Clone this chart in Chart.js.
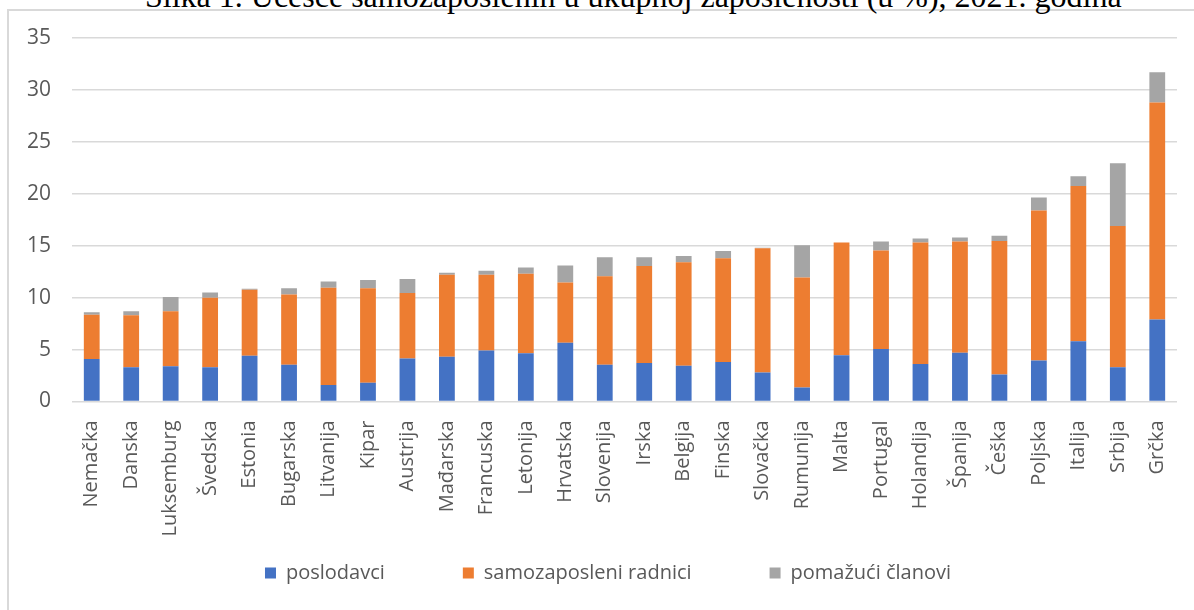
<!DOCTYPE html>
<html>
<head>
<meta charset="utf-8">
<script src="https://cdn.jsdelivr.net/npm/chart.js@4.4.1/dist/chart.umd.min.js"></script>
<style>
  html, body { margin: 0; padding: 0; background: #fff; overflow: hidden; }
  #frame { position: absolute; left: 7px; top: 9px; width: 1400px; height: 800px; border: 2px solid #d9d9d9; }
  #title { position: absolute; left: 145px; top: -20px; font: 32px "Liberation Serif", serif; line-height: 1; white-space: nowrap; color: #000; }
  #wrap { position: absolute; left: 0; top: 0; width: 1194px; height: 650px; }
</style>
</head>
<body>
<div id="frame"></div>
<div id="title">Slika 1. Učešće samozaposlenih u ukupnoj zaposlenosti (u %), 2021. godina</div>
<div id="wrap"><canvas id="chart"></canvas></div>
<script>
var countries = ["Nemačka", "Danska", "Luksemburg", "Švedska", "Estonia", "Bugarska", "Litvanija", "Kipar", "Austrija",
  "Mađarska", "Francuska", "Letonija", "Hrvatska", "Slovenija", "Irska", "Belgija", "Finska", "Slovačka", "Rumunija",
  "Malta", "Portugal", "Holandija", "Španija", "Češka", "Poljska", "Italija", "Srbija", "Grčka"];

// poslodavci
var employers = [4.1, 3.3, 3.4, 3.3, 4.4, 3.55, 1.6, 1.8, 4.15,
  4.3, 4.9, 4.65, 5.65, 3.55, 3.7, 3.45, 3.8, 2.8, 1.35,
  4.45, 5.05, 3.6, 4.7, 2.6, 3.95, 5.8, 3.3, 7.9];
// samozaposleni radnici
var ownAccount = [4.25, 5.0, 5.3, 6.7, 6.35, 6.75, 9.35, 9.1, 6.3,
  7.9, 7.3, 7.65, 5.8, 8.5, 9.35, 9.95, 10.0, 11.95, 10.6,
  10.85, 9.5, 11.7, 10.7, 12.85, 14.45, 14.95, 13.6, 20.9];
// pomažući članovi
var helpers = [0.25, 0.4, 1.35, 0.5, 0.1, 0.6, 0.6, 0.8, 1.35,
  0.2, 0.4, 0.6, 1.65, 1.85, 0.85, 0.6, 0.7, 0.05, 3.1,
  0, 0.85, 0.4, 0.4, 0.5, 1.25, 0.95, 6.05, 2.9];

var seriesNames = ["poslodavci", "samozaposleni radnici", "pomažući članovi"];
var seriesColors = ["#4472C4", "#ED7D31", "#A5A5A5"];
var yTicks = [0, 5, 10, 15, 20, 25, 30, 35];

var textGray = "#595959";
var font = "'Open Sans', sans-serif";

// legend sits under the labels, centred a bit right of the plot
var moveLegend = {
  id: "moveLegend",
  afterLayout: function (chart) {
    var lg = chart.legend;
    var dx = 608 - (lg.left + lg.right) / 2;
    var dy = 573 - (lg.top + 78 + 10);
    lg.left += dx; lg.right += dx;
    lg.top += dy; lg.bottom += dy;
  }
};

new Chart("chart", {
  type: "bar",
  data: {
    labels: countries,
    datasets: [employers, ownAccount, helpers].map(function (vals, i) {
      return {
        label: seriesNames[i],
        data: vals,
        backgroundColor: seriesColors[i],
        borderWidth: 0,
        categoryPercentage: 1,
        barPercentage: 0.4
      };
    })
  },
  plugins: [moveLegend],
  options: {
    responsive: true,
    maintainAspectRatio: false,
    animation: false,
    layout: { padding: { left: 0, right: 17, top: 38, bottom: 2 } },
    plugins: {
      title: { display: false },
      tooltip: { enabled: false },
      legend: {
        position: "bottom",
        labels: {
          boxWidth: 11,
          boxHeight: 11,
          padding: 78,
          color: textGray,
          font: { family: font, size: 20 }
        }
      }
    },
    scales: {
      x: {
        stacked: true,
        grid: { display: false },
        border: { display: false },
        ticks: {
          minRotation: 90,
          maxRotation: 90,
          padding: 11,
          color: textGray,
          font: { family: font, size: 20 }
        },
        afterFit: function (s) { s.height = 138.5; }
      },
      y: {
        stacked: true,
        min: 0,
        max: 35,
        afterBuildTicks: function (s) {
          s.ticks = yTicks.map(function (v) { return { value: v }; });
        },
        grid: { color: "#d9d9d9", lineWidth: 1.5, drawTicks: false },
        border: { display: false },
        ticks: {
          padding: 21,
          color: textGray,
          font: { family: font, size: 21 }
        },
        afterFit: function (s) { s.width = 72; }
      }
    }
  }
});
</script>
</body>
</html>
